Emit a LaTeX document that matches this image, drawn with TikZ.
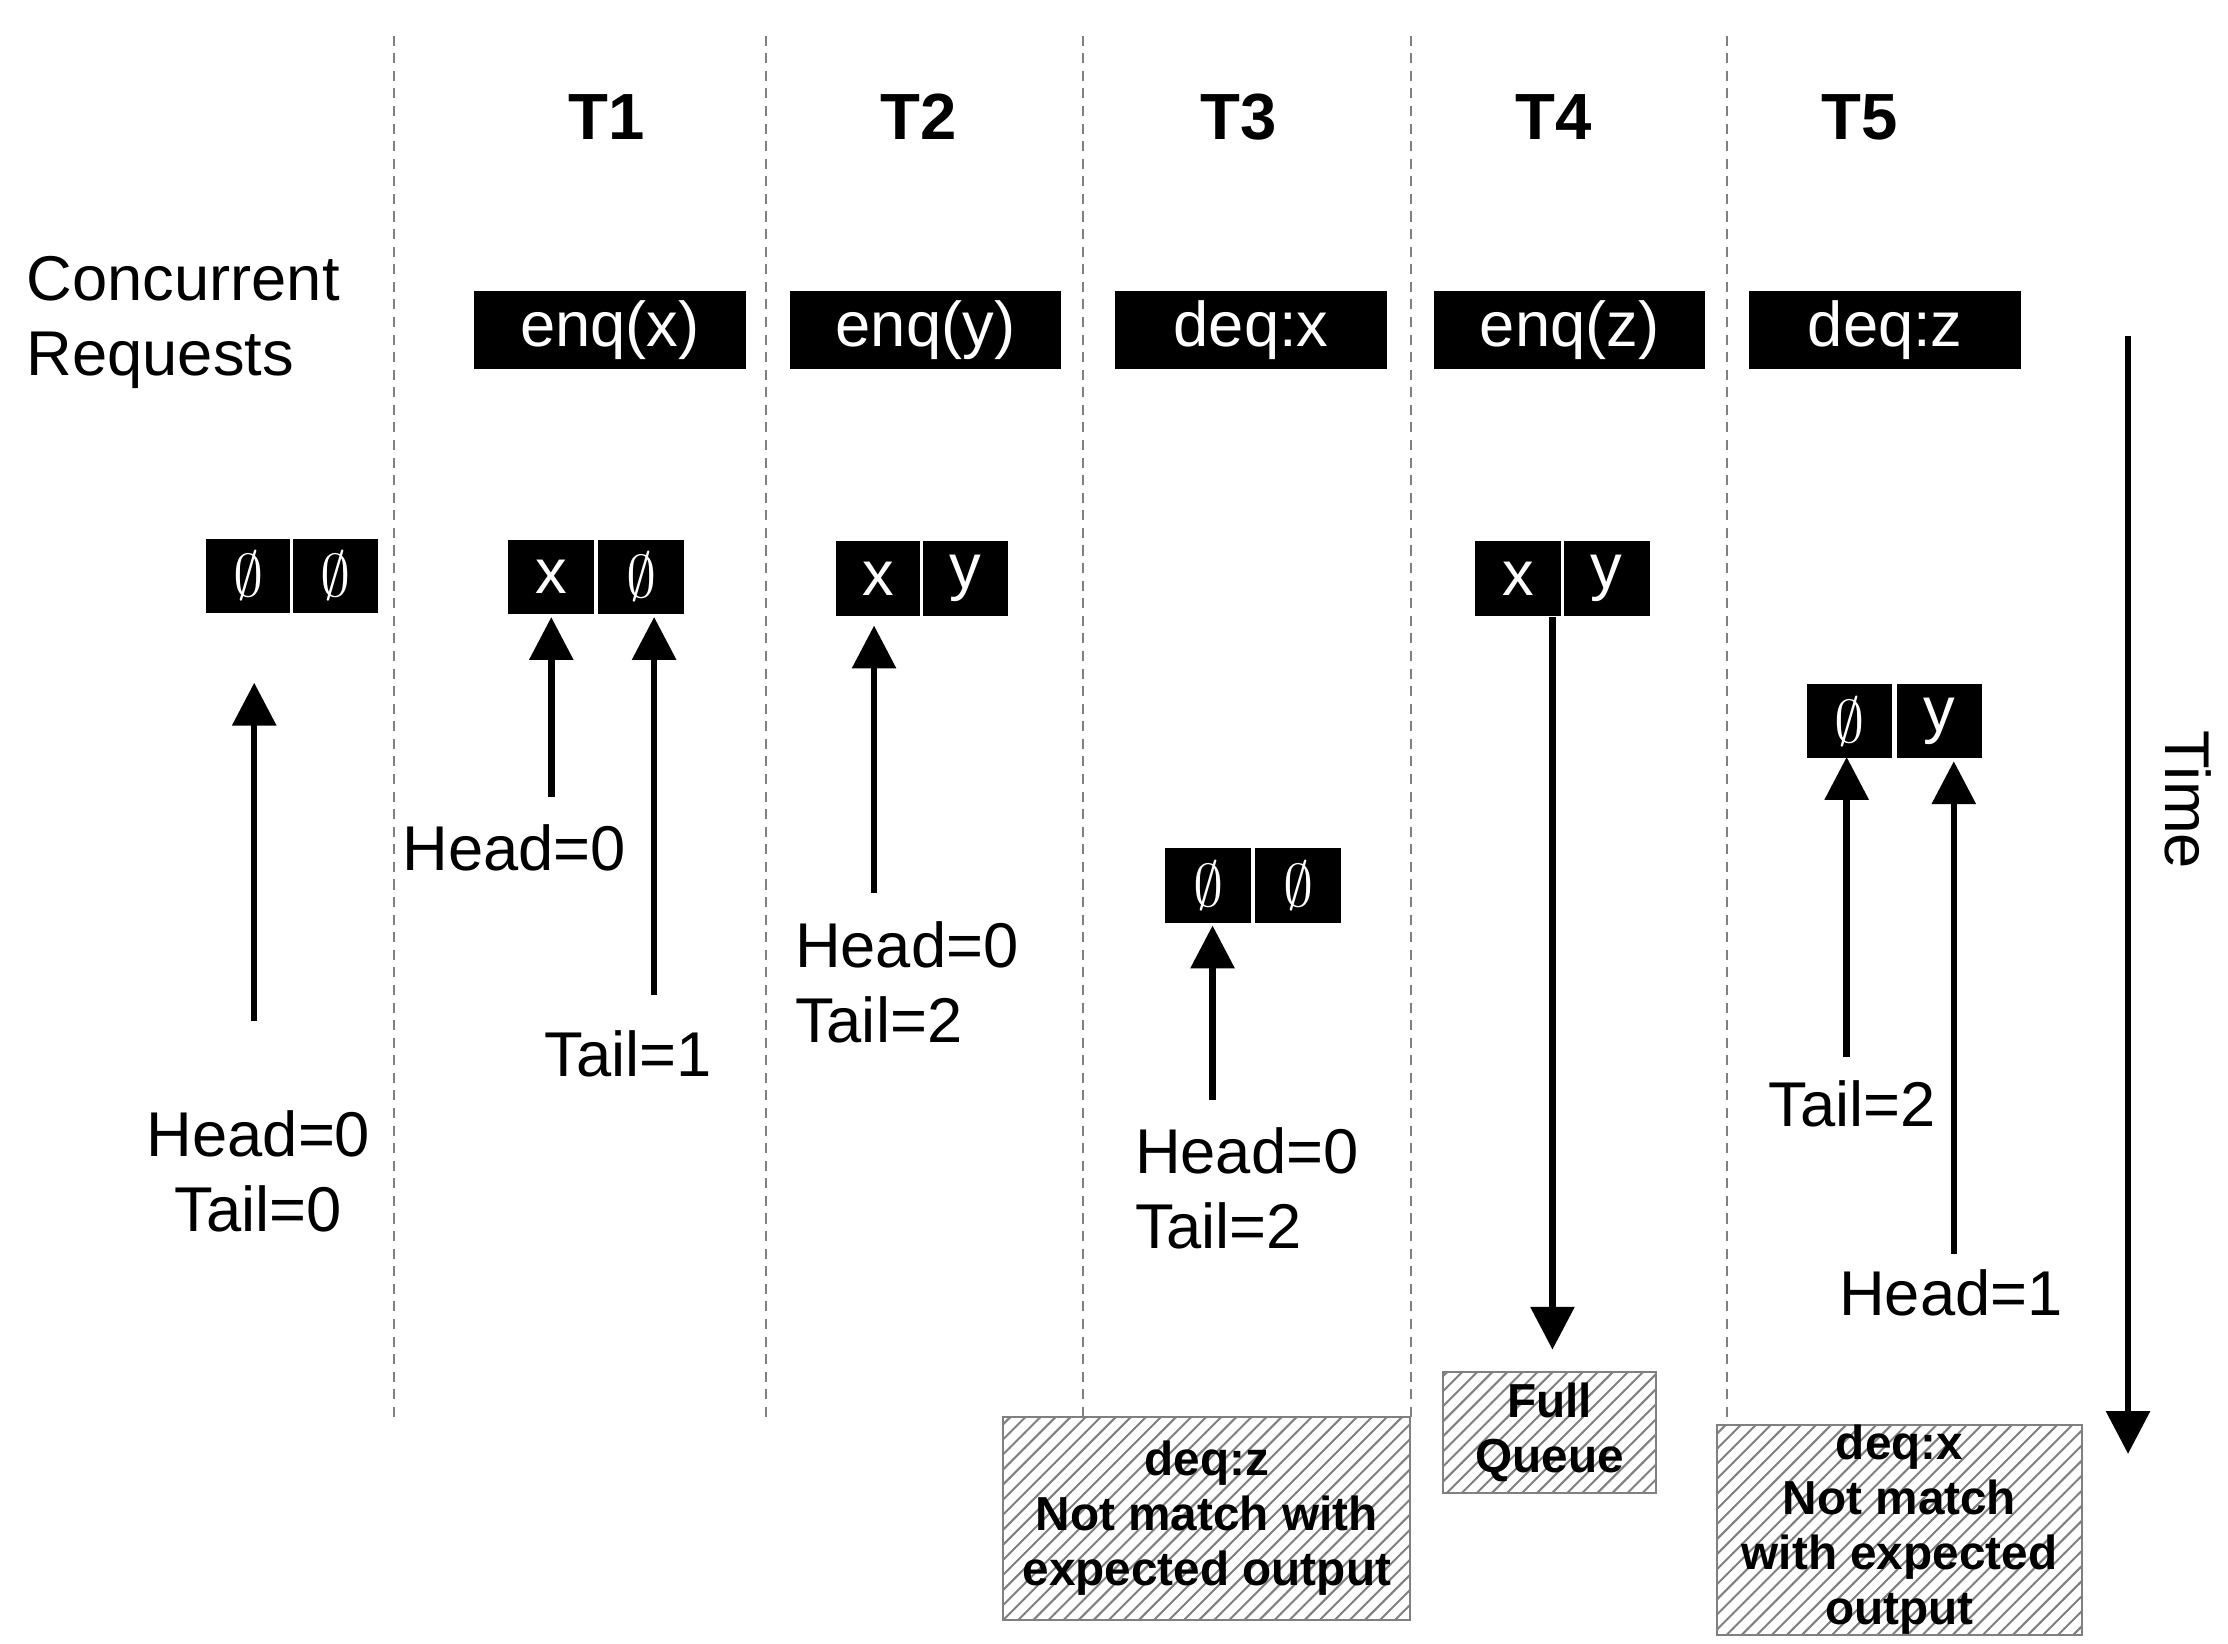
\documentclass[tikz,border=0pt]{standalone}
\usepackage{fontspec}
\setmainfont{Liberation Sans}
\usetikzlibrary{arrows.meta,patterns}
\begin{document}
\begin{tikzpicture}[x=0.01cm,y=-0.01cm,
  lbl/.style={font=\fontsize{12.6}{15}\selectfont,align=left,inner sep=0},
  tl/.style={font=\fontsize{13}{15}\selectfont\bfseries,inner sep=0},
  req/.style={fill=black,text=white,minimum width=1.9cm,minimum height=0.54cm,inner sep=0,font=\fontsize{12.6}{15}\selectfont},
  cell/.style={fill=black,text=white,draw=white,line width=0.6pt,minimum width=0.62cm,minimum height=0.54cm,inner sep=0,font=\fontsize{12.6}{15}\selectfont},
  arr/.style={line width=1.3pt,-{Triangle[length=0.3cm,width=0.3cm]}},
  sep/.style={gray,dash pattern=on 2pt off 1.5pt,line width=0.4pt},
  note/.style={draw=gray,pattern=north east lines,pattern color=gray,inner sep=0,align=center,font=\fontsize{9.5}{11}\selectfont\bfseries}]
\useasboundingbox (0,0) rectangle (1560,1151);
\foreach \x in {276,536,758,988,1209} \draw[sep] (\x,25) -- (\x,995);
\node[tl] (t1) at (425,82) {T1};
\node[tl] (t2) at (643,82) {T2};
\node[tl] (t3) at (867,82) {T3};
\node[tl] (t4) at (1088,82) {T4};
\node[tl] (t5) at (1302,82) {T5};
\node[lbl,anchor=west] (cr) at (18,226) {Concurrent\\Requests};
\node[req] (r1) at (427,231) {enq(x)};
\node[req] (r2) at (648,231) {enq(y)};
\node[req] (r3) at (876,231) {deq:x};
\node[req] (r4) at (1099,231) {enq(z)};
\node[req] (r5) at (1320,231) {deq:z};
% cells
\node[cell] (a0) at (174,403) {$\emptyset$};
\node[cell] (b0) at (235,403) {$\emptyset$};
\node[cell] (a1) at (386,404) {x};
\node[cell] (b1) at (449,404) {$\emptyset$};
\node[cell] (a2) at (615,405) {x};
\node[cell] (b2) at (676,405) {y};
\node[cell] (a3) at (846,620) {$\emptyset$};
\node[cell] (b3) at (909,620) {$\emptyset$};
\node[cell] (a4) at (1063,405) {x};
\node[cell] (b4) at (1125,405) {y};
\node[cell] (a5) at (1295,505) {$\emptyset$};
\node[cell] (b5) at (1358,505) {y};
% labels
\node[lbl,align=center] (l0) at (181,820) {Head=0\\Tail=0};
\node[lbl] (h1) at (360,594) {Head=0};
\node[lbl] (tt1) at (440,738) {Tail=1};
\node[lbl,anchor=west] (l2) at (556,688) {Head=0\\Tail=2};
\node[lbl,anchor=west] (l3) at (794,832) {Head=0\\Tail=2};
\node[lbl] (tt5) at (1297,773) {Tail=2};
\node[lbl] (h5) at (1366,905) {Head=1};
\coordinate (e4) at (1087,945);
% arrows
\draw[arr] (178,715) -- (178,478);
\draw[arr] (386,558) -- (a1.south);
\draw[arr] (458,697) -- (458,432);
\draw[arr] (612,625) -- (612,438);
\draw[arr] (849,770) -- (849,648);
\draw[arr] (1087,432) -- (e4);
\draw[arr] (1293,740) -- (1293,530);
\draw[arr] (1368,878) -- (1368,533);
\coordinate (ts) at (1490,235); \coordinate (te) at (1490,1018);
\draw[arr] (ts) -- (te);
\node[lbl,rotate=-90] (time) at (1532,560) {Time};
% notes
\node[note,minimum width=2.85cm,minimum height=1.42cm] (n3) at (845,1063) {deq:z\\Not match with\\expected output};
\node[note,minimum width=1.49cm,minimum height=0.84cm] (n4) at (1085,1003) {Full\\Queue};
\node[note,minimum width=2.55cm,minimum height=1.41cm] (n5) at (1330,1071) {deq:x\\Not match\\with expected\\output};
\end{tikzpicture}
\end{document}
